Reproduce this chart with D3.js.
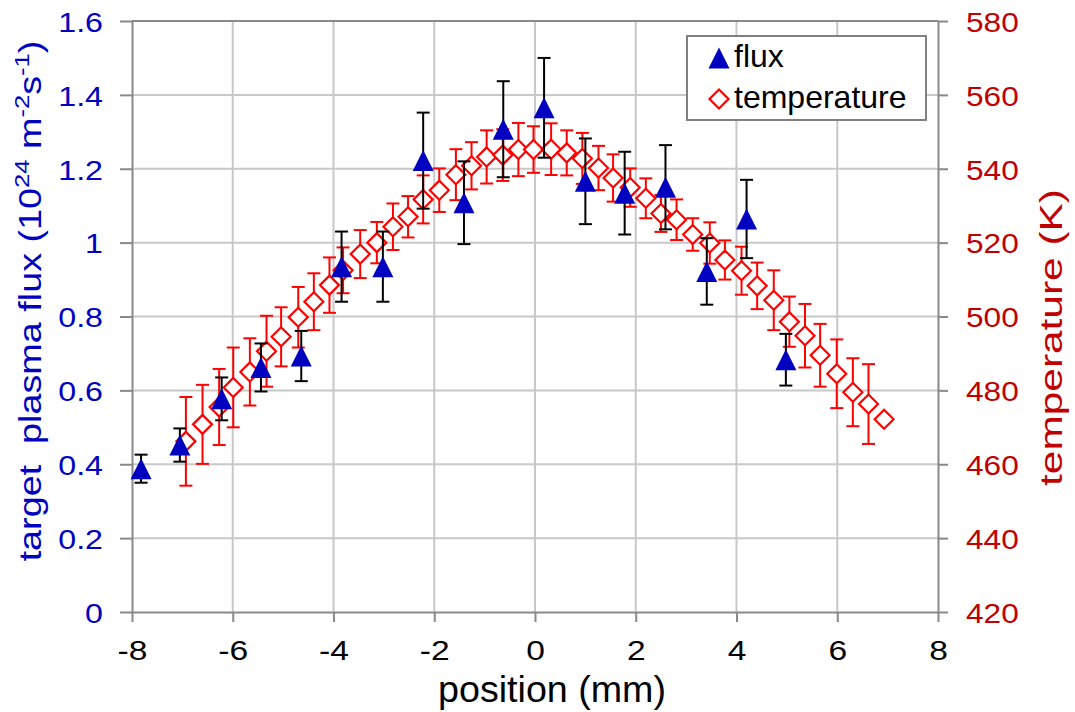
<!DOCTYPE html>
<html>
<head>
<meta charset="utf-8">
<script src="https://cdn.jsdelivr.net/npm/d3@7"></script>
<style>
  body { margin: 0; background: #fff; }
  text { font-family: Arial, "Liberation Sans", sans-serif; }
</style>
</head>
<body>
<div id="chart"></div>
<script>

// flux measurements, 10^24 m^-2 s^-1 (left axis)
const fluxPos = [-7.82, -7.05, -6.22, -5.44, -4.64, -3.84, -3.02, -2.22, -1.41, -0.63, 0.18, 1.0, 1.78, 2.59, 3.41, 4.2, 4.98];
const fluxVal = [0.388, 0.452, 0.577, 0.662, 0.693, 0.935, 0.935, 1.222, 1.108, 1.307, 1.365, 1.166, 1.134, 1.15, 0.922, 1.064, 0.683];
const fluxErr = [0.038, 0.045, 0.058, 0.065, 0.068, 0.095, 0.095, 0.13, 0.112, 0.13, 0.135, 0.116, 0.112, 0.114, 0.09, 0.106, 0.07];

// temperature, K (right axis)
const tempPos = [-6.93, -6.60, -6.27, -5.99, -5.66, -5.33, -5.04, -4.70, -4.39, -4.08, -3.81, -3.47, -3.14, -2.82, -2.52,
                 -2.22, -1.90, -1.57, -1.26, -0.96, -0.64, -0.33, -0.03, 0.32, 0.63, 0.94, 1.26, 1.55, 1.89, 2.20,
                 2.50, 2.81, 3.13, 3.47, 3.77, 4.10, 4.41, 4.74, 5.05, 5.36, 5.66, 5.99, 6.31, 6.62, 6.93];
const tempVal = [466.2, 470.8, 475.5, 480.8, 485.0, 490.6, 494.5, 499.8, 504.0, 508.5, 512.5, 516.9, 520.0, 524.3, 527.0,
                 531.7, 534.2, 538.4, 540.8, 543.2, 543.7, 545.2, 545.2, 545.3, 544.3, 542.8, 540.2, 537.5, 534.9, 532.0,
                 527.9, 526.2, 522.2, 519.9, 515.3, 512.4, 508.3, 504.4, 498.6, 494.8, 489.5, 484.5, 479.5, 476.3, 472.2];
const tempErr = [12, 10.7, 10.3, 10.8, 9.1, 9.6, 8.0, 8.2, 7.7, 7.5, 6.2, 6.5, 5.6, 6.3, 5.6,
                 6.5, 5.9, 6.9, 6.4, 7.2, 7.0, 7.2, 6.3, 7.0, 6.1, 6.9, 6.0, 6.4, 5.2, 5.4,
                 5.0, 5.5, 4.4, 5.6, 5.3, 6.5, 6.3, 8.1, 6.8, 8.6, 8.5, 9.3, 9.2, 10.8, 0];

const xTicks = [-8, -6, -4, -2, 0, 2, 4, 6, 8];
const xLabels = ["-8", "-6", "-4", "-2", "0", "2", "4", "6", "8"];
const fluxTicks = [0, 0.2, 0.4, 0.6, 0.8, 1, 1.2, 1.4, 1.6];
const fluxLabels = ["0", "0.2", "0.4", "0.6", "0.8", "1", "1.2", "1.4", "1.6"];
const tempTicks = [420, 440, 460, 480, 500, 520, 540, 560, 580];

function main() {

    const blue = "#0000c0", red = "#ff0000", darkRed = "#c00000",
        axisGrey = "#898989", gridGrey = "#c8c8c8";

    const margin = {top: 21, right: 137, bottom: 100, left: 132},
        width = 1075 - margin.left - margin.right,
        height = 712 - margin.top - margin.bottom;

    const root = d3.select("#chart")
        .append("svg")
        .attr("width", width + margin.left + margin.right)
        .attr("height", height + margin.top + margin.bottom);

    const svg = root.append("g")
        .attr("transform", `translate(${margin.left},${margin.top})`);

    const x = d3.scaleLinear().domain([-8, 8]).range([0, width]);
    const y = d3.scaleLinear().domain([0, 1.6]).range([height, 0]);
    const y2 = d3.scaleLinear().domain([420, 580]).range([height, 0]);

    // grid
    svg.append("g").selectAll("line")
        .data(xTicks.slice(1, -1))
        .join("line")
        .attr("x1", d => x(d)).attr("x2", d => x(d))
        .attr("y1", 0).attr("y2", height)
        .attr("stroke", gridGrey).attr("stroke-width", 2);
    svg.append("g").selectAll("line")
        .data(fluxTicks.slice(1, -1))
        .join("line")
        .attr("x1", 0).attr("x2", width)
        .attr("y1", d => y(d)).attr("y2", d => y(d))
        .attr("stroke", gridGrey).attr("stroke-width", 2);

    // top border
    svg.append("line")
        .attr("x1", 0).attr("x2", width).attr("y1", 0).attr("y2", 0)
        .attr("stroke", axisGrey).attr("stroke-width", 2);

    function styleAxis(g) {
        g.attr("font-size", null).attr("font-family", null);
        g.select(".domain").attr("stroke", axisGrey).attr("stroke-width", 2);
        g.selectAll(".tick line").attr("stroke", axisGrey).attr("stroke-width", 2);
        g.selectAll(".tick text").style("font-size", "28px");
    }

    // X axis
    svg.append("g")
        .attr("transform", `translate(0,${height})`)
        .call(d3.axisBottom(x).tickValues(xTicks).tickFormat((d, i) => xLabels[i]).tickSize(10).tickSizeOuter(0))
        .call(styleAxis)
        .call(g => g.selectAll(".tick text")
            .attr("y", 0).attr("dy", null)
            .attr("fill", "#000")
            .attr("transform", "translate(0,48) scale(1.2,1)"));

    // left Y axis
    svg.append("g")
        .call(d3.axisLeft(y).tickValues(fluxTicks).tickFormat((d, i) => fluxLabels[i]).tickSize(12).tickSizeOuter(0))
        .call(styleAxis)
        .call(g => g.selectAll(".tick text")
            .attr("x", 0).attr("dy", "0.37em")
            .attr("fill", blue)
            .attr("transform", "translate(-29,0) scale(1.15,1)"));

    // right Y axis
    svg.append("g")
        .attr("transform", `translate(${width},0)`)
        .call(d3.axisRight(y2).tickValues(tempTicks).tickSize(10).tickSizeOuter(0))
        .call(styleAxis)
        .call(g => g.selectAll(".tick text")
            .attr("x", 0).attr("dy", "0.37em")
            .attr("fill", darkRed)
            .attr("transform", "translate(28,0) scale(1.13,1)"));

    const tempData = tempPos.map((p, i) => ({x: p, v: tempVal[i], e: tempErr[i]}));
    const fluxData = fluxPos.map((p, i) => ({x: p, v: fluxVal[i], e: fluxErr[i]}));

    function errorBars(data, scale, color) {
        const g = svg.append("g")
            .attr("stroke", color).attr("stroke-width", 2)
            .selectAll("g")
            .data(data.filter(d => d.e > 0))
            .join("g");
        g.append("line")
            .attr("x1", d => x(d.x)).attr("x2", d => x(d.x))
            .attr("y1", d => scale(d.v - d.e)).attr("y2", d => scale(d.v + d.e));
        g.append("line")
            .attr("x1", d => x(d.x) - 6.5).attr("x2", d => x(d.x) + 6.5)
            .attr("y1", d => scale(d.v + d.e)).attr("y2", d => scale(d.v + d.e));
        g.append("line")
            .attr("x1", d => x(d.x) - 6.5).attr("x2", d => x(d.x) + 6.5)
            .attr("y1", d => scale(d.v - d.e)).attr("y2", d => scale(d.v - d.e));
    }

    const diamond = "M0,-9.5L9.5,0L0,9.5L-9.5,0Z";
    const triangle = "M0,-10.5L10.5,10.5L-10.5,10.5Z";

    // temperature series
    errorBars(tempData, y2, red);
    svg.append("g").selectAll("path")
        .data(tempData)
        .join("path")
        .attr("d", diamond)
        .attr("transform", d => `translate(${x(d.x)},${y2(d.v)})`)
        .attr("fill", "#fff")
        .attr("stroke", red)
        .attr("stroke-width", 2.2);

    // flux series
    errorBars(fluxData, y, "#000");
    svg.append("g").selectAll("path")
        .data(fluxData)
        .join("path")
        .attr("d", triangle)
        .attr("transform", d => `translate(${x(d.x)},${y(d.v)})`)
        .attr("fill", blue);

    // stretch a text element to a measured length
    function fit(t, len) {
        const w = t.node().getBBox().width;
        t.attr("transform", `scale(${len / w},1)`);
    }

    // axis titles
    const xt = root.append("g").attr("transform", "translate(552,702)")
        .append("text")
        .attr("text-anchor", "middle")
        .attr("fill", "#000")
        .style("font-size", "36px")
        .text("position (mm)");
    fit(xt, 228);

    const lt = root.append("g").attr("transform", "translate(41,301) rotate(-90)")
        .append("text")
        .attr("text-anchor", "middle")
        .attr("fill", blue)
        .style("font-size", "31px");
    lt.append("tspan").text("target  plasma flux (10").attr("xml:space", "preserve");
    lt.append("tspan").text("24").attr("dy", -12).style("font-size", "21px");
    lt.append("tspan").text(" m").attr("dy", 12);
    lt.append("tspan").text("-2").attr("dy", -12).style("font-size", "21px");
    lt.append("tspan").text("s").attr("dy", 12);
    lt.append("tspan").text("-1").attr("dy", -12).style("font-size", "21px");
    lt.append("tspan").text(")").attr("dy", 12);
    fit(lt, 521);

    const rt = root.append("g").attr("transform", "translate(1062,337.5) rotate(-90)")
        .append("text")
        .attr("text-anchor", "middle")
        .attr("fill", darkRed)
        .style("font-size", "31px")
        .text("temperature (K)");
    fit(rt, 297);

    // legend
    const legend = root.append("g");
    legend.append("rect")
        .attr("x", 687).attr("y", 36)
        .attr("width", 239).attr("height", 84)
        .attr("fill", "#fff")
        .attr("stroke", "#808080").attr("stroke-width", 2);
    legend.append("path")
        .attr("d", triangle)
        .attr("transform", "translate(719,58)")
        .attr("fill", blue);
    legend.append("path")
        .attr("d", diamond)
        .attr("transform", "translate(719,99)")
        .attr("fill", "#fff").attr("stroke", red).attr("stroke-width", 2.2);
    legend.append("text")
        .attr("x", 734).attr("y", 67)
        .style("font-size", "32px")
        .text("flux");
    legend.append("text")
        .attr("x", 734).attr("y", 108)
        .style("font-size", "32px")
        .text("temperature");
}

main()
</script>
</body>
</html>
